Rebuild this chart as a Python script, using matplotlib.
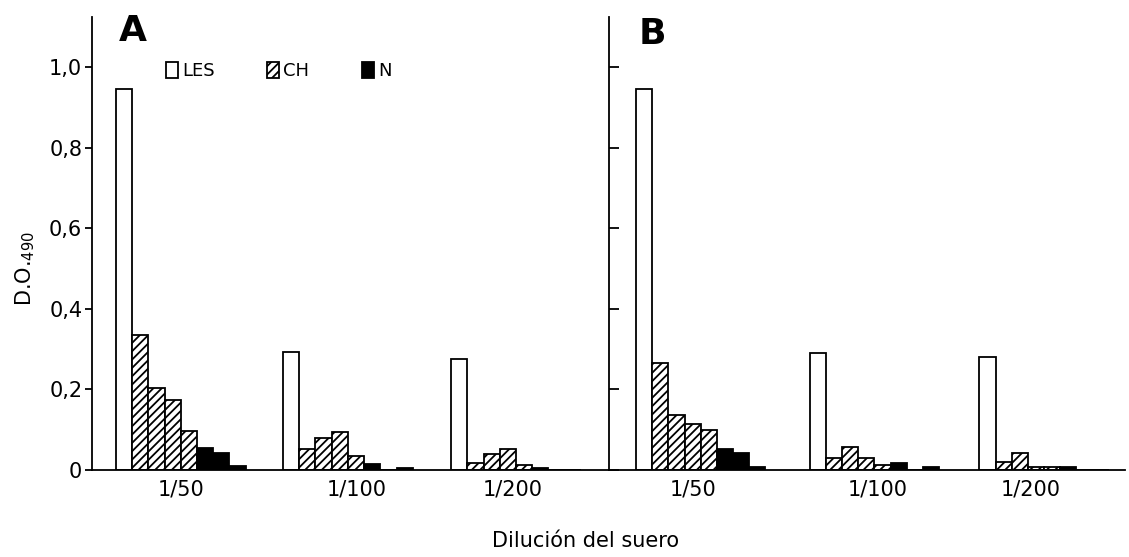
import matplotlib
matplotlib.use('Agg')
import matplotlib.pyplot as plt
from matplotlib.patches import Patch

# serum dilutions (x categories)
dilutions = ['1/50', '1/100', '1/200']

# Panel A: optical density at 490 nm
les_a = [0.945, 0.293, 0.275]
ch_a = [[0.335, 0.204, 0.173, 0.096],
        [0.051, 0.080, 0.095, 0.036],
        [0.018, 0.039, 0.053, 0.012]]
n_a = [[0.055, 0.043, 0.010],
       [0.014, 0.0, 0.006],
       [0.005, 0.0, 0.0]]

# Panel B
les_b = [0.946, 0.290, 0.280]
ch_b = [[0.266, 0.136, 0.115, 0.099],
        [0.029, 0.057, 0.029, 0.012],
        [0.019, 0.042, 0.007, 0.007]]
n_b = [[0.053, 0.041, 0.008],
       [0.018, 0.0, 0.008],
       [0.007, 0.0, 0.0]]

y_ticks = [0, 0.2, 0.4, 0.6, 0.8, 1.0]
y_ticklabels = ['0', '0,2', '0,4', '0,6', '0,8', '1,0']

# layout (bar units, bar width = 1)
group_start_a = [1.48, 11.79, 22.16]
label_pos_a = [5.49, 16.36, 25.93]
group_start_b = [1.67, 12.41, 22.9]
label_pos_b = [5.19, 16.6, 26.1]

plt.rcParams['font.family'] = 'DejaVu Sans'
plt.rcParams['hatch.linewidth'] = 1.3
LW = 1.3
HATCH = '////'


def draw_panel(ax, les, ch, n, starts, label_pos):
    for g in range(len(dilutions)):
        x0 = starts[g]
        ax.bar(x0, les[g], width=1, align='edge', facecolor='white',
               edgecolor='black', linewidth=LW)
        ax.bar([x0 + 1 + i for i in range(len(ch[g]))], ch[g], width=1,
               align='edge', facecolor='white', edgecolor='black',
               hatch=HATCH, linewidth=LW)
        ax.bar([x0 + 5 + i for i in range(len(n[g]))], n[g], width=1,
               align='edge', facecolor='black', edgecolor='black',
               linewidth=LW)
    ax.set_xlim(0, 31.9)
    ax.set_ylim(0, 1.125)
    ax.set_xticks(label_pos)
    ax.set_xticklabels(dilutions)
    ax.tick_params(axis='x', length=0, pad=7, labelsize=15)
    ax.set_yticks(y_ticks)
    for s in ['top', 'right']:
        ax.spines[s].set_visible(False)
    for s in ['left', 'bottom']:
        ax.spines[s].set_linewidth(LW)


fig = plt.figure(figsize=(11.29, 5.57), dpi=100)
ax_a = fig.add_axes([0.0815, 0.1562, 0.4579, 0.8133])
ax_b = fig.add_axes([0.5394, 0.1562, 0.457, 0.8133])

draw_panel(ax_a, les_a, ch_a, n_a, group_start_a, label_pos_a)
draw_panel(ax_b, les_b, ch_b, n_b, group_start_b, label_pos_b)

ax_a.set_yticklabels(y_ticklabels)
ax_a.tick_params(axis='y', direction='out', length=5, width=LW, pad=2, labelsize=15)
ax_b.set_yticklabels([])
ax_b.tick_params(axis='y', direction='in', length=7, width=LW)

handles = [Patch(facecolor='white', edgecolor='black', linewidth=LW),
           Patch(facecolor='white', edgecolor='black', hatch=HATCH, linewidth=LW),
           Patch(facecolor='black', edgecolor='black', linewidth=LW)]
ax_a.legend(handles, ['LES', 'CH', 'N'], ncol=3, frameon=False,
            loc='center left', bbox_to_anchor=(166 / 1129, 1 - 71 / 557),
            bbox_transform=fig.transFigure, fontsize=13,
            handlelength=0.65, handleheight=1.0, handletextpad=0.25,
            columnspacing=2.9, borderpad=0, borderaxespad=0)

fig.text(133 / 1129, 1 - 31 / 557, 'A', fontsize=26, fontweight='bold',
         ha='center', va='center')
fig.text(652 / 1129, 1 - 34 / 557, 'B', fontsize=26, fontweight='bold',
         ha='center', va='center')
fig.text(25 / 1129, 1 - 269 / 557, r'D.O.$_{\mathregular{490}}$', fontsize=15,
         rotation=90, ha='center', va='center')
fig.text(586 / 1129, 1 - 541 / 557, 'Dilución del suero', fontsize=15,
         ha='center', va='center')

fig.savefig('out.png', dpi=100)
